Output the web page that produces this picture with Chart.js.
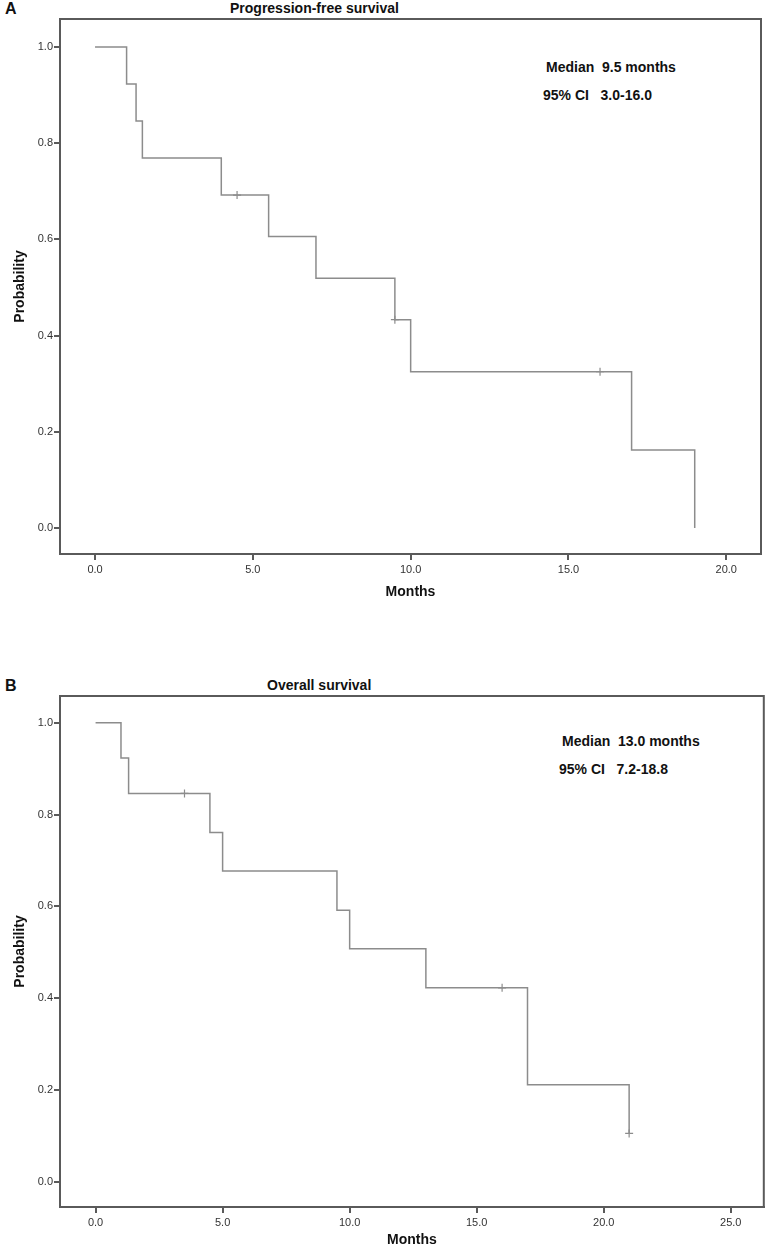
<!DOCTYPE html>
<html>
<head>
<meta charset="utf-8">
<script src="https://cdn.jsdelivr.net/npm/chart.js@4.4.0/dist/chart.umd.min.js"></script>
<style>
  body { margin: 0; background: #fff; width: 769px; height: 1249px; position: relative; overflow: hidden;
         font-family: "Liberation Sans", Arial, sans-serif; }
  .panel { position: absolute; left: 0; width: 769px; }
  .lbl { position: absolute; font-weight: bold; color: #111; white-space: pre; line-height: 1; }
</style>
</head>
<body>

<div class="lbl" style="left:5px; top:1px; font-size:16px;">A</div>
<div class="lbl" style="left:230px; top:1px; font-size:14px;">Progression-free survival</div>
<div class="lbl" style="left:546px; top:60px; font-size:14px;">Median  9.5 months</div>
<div class="lbl" style="left:543px; top:88px; font-size:14px;">95% CI   3.0-16.0</div>
<div class="panel" style="top:0; height:605px;"><canvas id="pfsChart"></canvas></div>

<div class="lbl" style="left:5px; top:678px; font-size:16px;">B</div>
<div class="lbl" style="left:267px; top:678px; font-size:14px;">Overall survival</div>
<div class="lbl" style="left:562px; top:734px; font-size:14px;">Median  13.0 months</div>
<div class="lbl" style="left:559px; top:762px; font-size:14px;">95% CI   7.2-18.8</div>
<div class="panel" style="top:620px; height:629px;"><canvas id="osChart"></canvas></div>

<script>
// A: progression-free survival (Kaplan-Meier steps)
const pfsTimes = [0, 1.0, 1.3, 1.5, 4.0, 5.5, 7.0, 9.5, 10.0, 17.0, 19.0];
const pfsSurv  = [1.0, 0.923, 0.846, 0.769, 0.692, 0.606, 0.519, 0.433, 0.325, 0.162, 0.0];
const pfsCensorTimes = [4.5, 9.5, 16.0];
const pfsCensorSurv  = [0.692, 0.433, 0.325];
const pfsXTicks = [0, 5, 10, 15, 20];

// B: overall survival
const osTimes = [0, 1.0, 1.3, 4.5, 5.0, 9.5, 10.0, 13.0, 17.0, 21.0];
const osSurv  = [1.0, 0.923, 0.846, 0.761, 0.677, 0.592, 0.508, 0.423, 0.212, 0.106];
const osCensorTimes = [3.5, 16.0, 21.0];
const osCensorSurv  = [0.846, 0.423, 0.106];
const osXTicks = [0, 5, 10, 15, 20, 25];

const yTicks = [0, 0.2, 0.4, 0.6, 0.8, 1.0];

const FRAME = '#5a5a5a';
const CURVE = '#8c8c8c';

// top and right edges of the plot box
const framePlugin = {
    id: 'frame',
    afterDraw(chart) {
        const { ctx, chartArea: a } = chart;
        ctx.save();
        ctx.strokeStyle = FRAME;
        ctx.lineWidth = 2;
        ctx.strokeRect(a.left, a.top, a.right - a.left, a.bottom - a.top);
        ctx.restore();
    }
};

function toPoints(xs, ys) {
    return xs.map((x, i) => ({ x: x, y: ys[i] }));
}

function makeChart(id, times, surv, cTimes, cSurv, xTicks, xMin, xMax, opts) {
    const ctx = document.getElementById(id).getContext('2d');
    return new Chart(ctx, {
        type: 'scatter',
        data: {
            datasets: [
                {
                    data: toPoints(times, surv),
                    showLine: true,
                    stepped: 'before',
                    borderColor: CURVE,
                    borderWidth: 1.5,
                    pointRadius: 0
                },
                {
                    data: toPoints(cTimes, cSurv),
                    showLine: false,
                    pointStyle: 'cross',
                    pointRadius: 4,
                    borderColor: CURVE,
                    borderWidth: 1.2
                }
            ]
        },
        options: {
            responsive: true,
            maintainAspectRatio: false,
            animation: false,
            layout: { padding: { top: opts.padTop, right: opts.padRight, left: 0, bottom: 0 } },
            plugins: { legend: { display: false }, tooltip: { enabled: false } },
            scales: {
                x: {
                    type: 'linear',
                    min: xMin,
                    max: xMax,
                    afterBuildTicks: (s) => { s.ticks = xTicks.map(v => ({ value: v })); },
                    afterFit: (s) => { s.height = opts.xHeight; },
                    ticks: {
                        color: '#333',
                        padding: 3,
                        font: { family: '"Liberation Sans Narrow", "Liberation Sans", Arial', size: 11 },
                        callback: (v) => Number(v).toFixed(1)
                    },
                    grid: { drawOnChartArea: false, drawTicks: true, tickLength: 6, color: FRAME, lineWidth: 2 },
                    border: { display: true, color: FRAME, width: 2 },
                    title: {
                        display: true, text: 'Months', color: '#111',
                        font: { family: '"Liberation Sans", Arial', size: 14, weight: 'bold' },
                        padding: { top: 0, bottom: opts.titleBottom }
                    }
                },
                y: {
                    type: 'linear',
                    min: -0.054,
                    max: 1.058,
                    afterBuildTicks: (s) => { s.ticks = yTicks.map(v => ({ value: v })); },
                    afterFit: (s) => { s.width = 60; },
                    ticks: {
                        color: '#333',
                        padding: 1,
                        font: { family: '"Liberation Sans Narrow", "Liberation Sans", Arial', size: 11 },
                        callback: (v) => Number(v).toFixed(1)
                    },
                    grid: { drawOnChartArea: false, drawTicks: true, tickLength: 6, color: FRAME, lineWidth: 2 },
                    border: { display: true, color: FRAME, width: 2 },
                    title: {
                        display: true, text: 'Probability', color: '#111',
                        font: { family: '"Liberation Sans", Arial', size: 14, weight: 'bold' },
                        padding: { top: 12, bottom: 0 }
                    }
                }
            }
        },
        plugins: [framePlugin]
    });
}

makeChart('pfsChart', pfsTimes, pfsSurv, pfsCensorTimes, pfsCensorSurv, pfsXTicks, -1.11, 21.1,
    { padTop: 19, padRight: 8, xHeight: 51, titleBottom: 4 });
makeChart('osChart', osTimes, osSurv, osCensorTimes, osCensorSurv, osXTicks, -1.4, 26.3,
    { padTop: 76, padRight: 2, xHeight: 42, titleBottom: 0 });
</script>
</body>
</html>
